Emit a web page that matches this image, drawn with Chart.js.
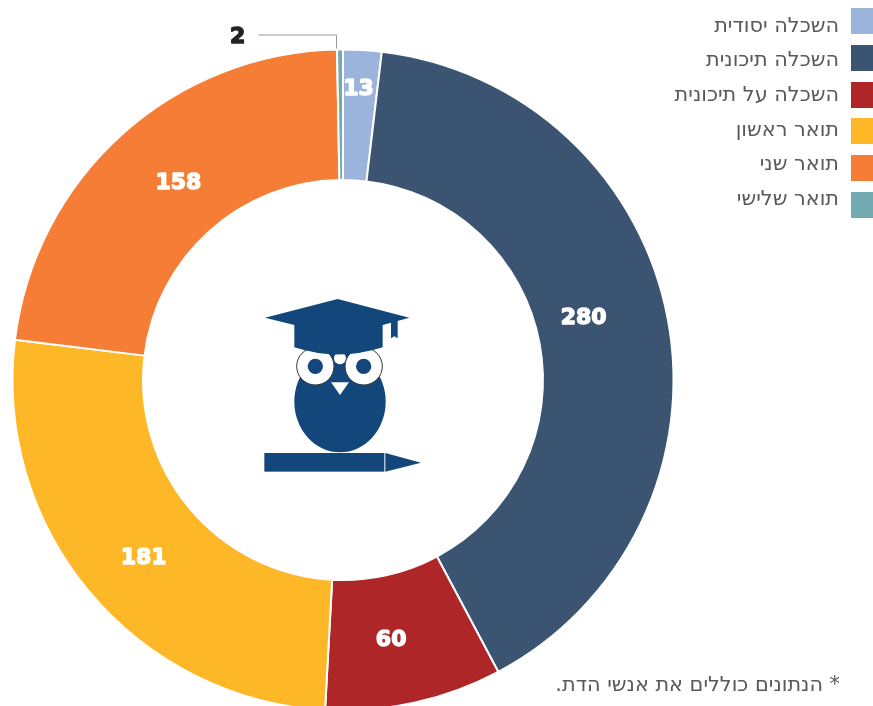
<!DOCTYPE html>
<html lang="he"><head><meta charset="utf-8">
<style>
html,body{margin:0;padding:0;width:873px;height:706px;overflow:hidden;background:#fff}
#chart{position:absolute;left:0;top:0}
#note{position:absolute;right:33px;top:672px;direction:rtl;font:20.8px "DejaVu Sans",sans-serif;color:#595959;white-space:nowrap}
#owl{position:absolute;left:250px;top:290px;width:180px;height:190px}
.swatch{position:absolute;left:851px;width:22px;height:26px}
.entry{position:absolute;right:34px;direction:rtl;font:20.8px/24px "DejaVu Sans",sans-serif;color:#595959;white-space:nowrap}
</style>
<script src="https://cdn.jsdelivr.net/npm/chart.js@4/dist/chart.umd.min.js"></script>
</head><body>
<canvas id="chart" width="686" height="760"></canvas>
<svg id="owl" viewBox="0 0 540 570" aria-hidden="true">
  <ellipse cx="270" cy="335" rx="137" ry="152" fill="#13477B"/>
  <circle cx="270" cy="205" r="18" fill="#fff"/>
  <circle cx="196" cy="229" r="56" fill="#fff" stroke="#333" stroke-width="3"/>
  <circle cx="341" cy="229" r="56" fill="#fff" stroke="#333" stroke-width="3"/>
  <circle cx="196" cy="229" r="23" fill="#13477B"/>
  <circle cx="341" cy="229" r="23" fill="#13477B"/>
  <path d="M243 277H297L270 315Z" fill="#fff"/>
  <path d="M45 83L263 27L478 83L398 105V172Q265 215 133 172V105Z" fill="#13477B"/>
  <path d="M423 97L443 91V145L433 139L423 145Z" fill="#13477B"/>
  <rect x="43" y="489" width="360" height="56" fill="#13477B"/>
  <path d="M406 489L513 518L406 545Z" fill="#13477B"/>
</svg>
<div id="note">* הנתונים כוללים את אנשי הדת.</div>
<script>
const categories = ['השכלה יסודית','השכלה תיכונית','השכלה על תיכונית','תואר ראשון','תואר שני','תואר שלישי'];
const values = [13,280,60,181,158,2];
const colors = ['#9BB4DB','#3A5472','#AE2627','#FDB727','#F67D35','#73A9B0'];
const labelShift = [[0,-26],[-20,-13],[-9,1],[4,8],[13,0],[-103,-78]];
const labelColors = ['#fff','#fff','#fff','#fff','#fff','#222'];

// legend: swatches and their texts run on slightly different pitches in the original
categories.forEach((name,i)=>{
  const box=document.createElement('div');
  box.className='swatch';
  box.style.top=(8+36.8*i)+'px';
  box.style.background=colors[i];
  document.body.appendChild(box);
  const txt=document.createElement('div');
  txt.className='entry';
  txt.style.top=(12.5+34.7*i)+'px';
  txt.textContent=name;
  document.body.appendChild(txt);
});

const valueLabels = {
  id:'valueLabels',
  afterDatasetsDraw(chart){
    const ctx = chart.ctx, arcs = chart.getDatasetMeta(0).data;
    ctx.save();
    const a = arcs[5];
    const top = a.y - a.outerRadius;
    ctx.strokeStyle='#999'; ctx.lineWidth=1;
    ctx.beginPath();
    ctx.moveTo(a.x-84.5, top-14.5); ctx.lineTo(a.x-6.5, top-14.5); ctx.lineTo(a.x-6.5, top-1);
    ctx.stroke();
    ctx.font='bold 22px "DejaVu Sans"';
    ctx.textAlign='center'; ctx.textBaseline='middle';
    ctx.lineJoin='round'; ctx.lineWidth=1.4;
    arcs.forEach((arc,i)=>{
      const p = arc.getCenterPoint();
      ctx.fillStyle=labelColors[i]; ctx.strokeStyle=labelColors[i];
      const x=p.x+labelShift[i][0], y=p.y+labelShift[i][1];
      ctx.strokeText(values[i],x,y); ctx.fillText(values[i],x,y);
    });
    ctx.restore();
  }
};

new Chart(document.getElementById('chart'),{
  type:'doughnut',
  data:{labels:categories,datasets:[{data:values,backgroundColor:colors,borderColor:'#fff',borderWidth:2}]},
  plugins:[valueLabels],
  options:{
    responsive:false,animation:false,
    radius:330.5,cutout:'60.5%',
    plugins:{tooltip:{enabled:false},legend:{display:false}}
  }
});
</script>
</body></html>
